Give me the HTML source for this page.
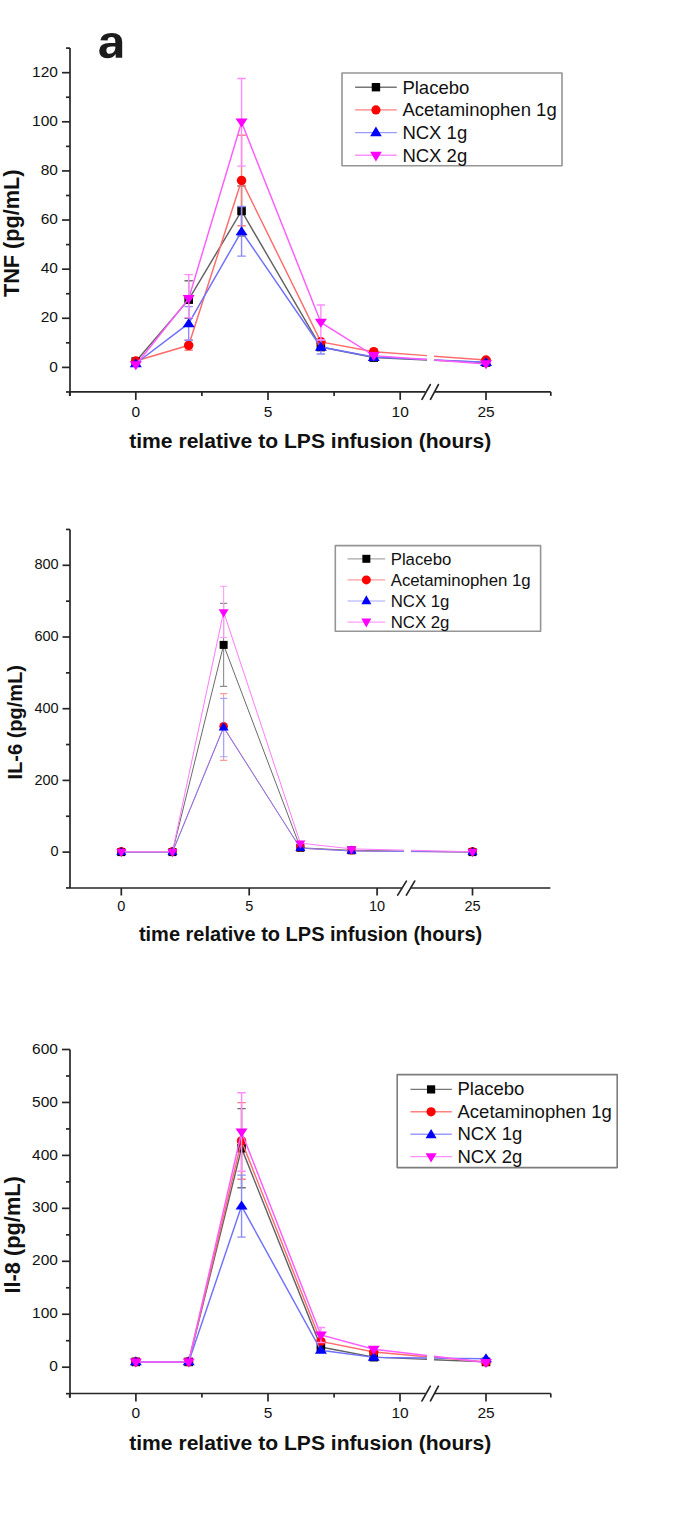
<!DOCTYPE html>
<html><head><meta charset="utf-8"><style>
html,body{margin:0;padding:0;background:#fff;}
body{width:685px;height:1540px;overflow:hidden;}
svg{display:block;}
text{font-family:"Liberation Sans",sans-serif;fill:#111;}
</style></head><body>
<svg width="685" height="1540" viewBox="0 0 685 1540">
<rect width="685" height="1540" fill="#fff"/>
<path transform="translate(97.734 57.749) scale(0.02444 -0.02255)" fill="#1c1c1c" d="M393 -20Q236 -20 148.0 65.5Q60 151 60 306Q60 474 169.5 562.0Q279 650 487 652L720 656V711Q720 817 683.0 868.5Q646 920 562 920Q484 920 447.5 884.5Q411 849 402 767L109 781Q136 939 253.5 1020.5Q371 1102 574 1102Q779 1102 890.0 1001.0Q1001 900 1001 714V0H735V170Q631 -20 393 -20ZM720 501 576 499Q478 495 437.0 477.5Q396 460 374.5 424.0Q353 388 353 328Q353 251 388.5 213.5Q424 176 483 176Q549 176 603.5 212.0Q658 248 689.0 311.5Q720 375 720 446Z"/>
<path d="M135.8 361.51L188.68 299.61L241.56 210.95L320.88 347.02L373.76 357.58L427 359.91" fill="none" stroke="#626262" stroke-width="1.45"/>
<path d="M434 360.21L486 362.49" fill="none" stroke="#626262" stroke-width="1.45"/>
<path d="M188.68 280.81V318.41M184.48 280.81H192.88M184.48 318.41H192.88" fill="none" stroke="#707070" stroke-width="1.4"/>
<path d="M241.56 185.95V235.95M237.36 185.95H245.76M237.36 235.95H245.76" fill="none" stroke="#707070" stroke-width="1.4"/>
<rect x="131.5" y="357.21" width="8.6" height="8.6" fill="#000000"/>
<rect x="184.38" y="295.31" width="8.6" height="8.6" fill="#000000"/>
<rect x="237.26" y="206.65" width="8.6" height="8.6" fill="#000000"/>
<rect x="316.58" y="342.72" width="8.6" height="8.6" fill="#000000"/>
<rect x="369.46" y="353.28" width="8.6" height="8.6" fill="#000000"/>
<rect x="481.7" y="358.19" width="8.6" height="8.6" fill="#000000"/>
<path d="M135.8 361.01L188.68 345.3L241.56 180.5L320.88 341.86L373.76 351.68L427 355.64" fill="none" stroke="#ff6c6c" stroke-width="1.45"/>
<path d="M434 356.16L486 360.03" fill="none" stroke="#ff6c6c" stroke-width="1.45"/>
<path d="M188.68 340.3V350.3M184.48 340.3H192.88M184.48 350.3H192.88" fill="none" stroke="#ff8080" stroke-width="1.4"/>
<path d="M241.56 135.3V225.7M237.36 135.3H245.76M237.36 225.7H245.76" fill="none" stroke="#ff8080" stroke-width="1.4"/>
<circle cx="135.8" cy="361.01" r="4.75" fill="#ff0000"/>
<circle cx="188.68" cy="345.3" r="4.75" fill="#ff0000"/>
<circle cx="241.56" cy="180.5" r="4.75" fill="#ff0000"/>
<circle cx="320.88" cy="341.86" r="4.75" fill="#ff0000"/>
<circle cx="373.76" cy="351.68" r="4.75" fill="#ff0000"/>
<circle cx="486" cy="360.03" r="4.75" fill="#ff0000"/>
<path d="M135.8 363.47L188.68 323.44L241.56 231.34L320.88 347.02L373.76 357.08L427 359.53" fill="none" stroke="#7070ff" stroke-width="1.45"/>
<path d="M434 359.85L486 362.24" fill="none" stroke="#7070ff" stroke-width="1.45"/>
<path d="M188.68 306.64V340.24M184.48 306.64H192.88M184.48 340.24H192.88" fill="none" stroke="#8c8cff" stroke-width="1.4"/>
<path d="M241.56 206.54V256.14M237.36 206.54H245.76M237.36 256.14H245.76" fill="none" stroke="#8c8cff" stroke-width="1.4"/>
<path d="M320.88 340.02V354.02M316.68 340.02H325.08M316.68 354.02H325.08" fill="none" stroke="#8c8cff" stroke-width="1.4"/>
<path d="M135.8 358.27L141.8 367.27L129.8 367.27Z" fill="#0000ff"/>
<path d="M188.68 318.24L194.68 327.24L182.68 327.24Z" fill="#0000ff"/>
<path d="M241.56 226.14L247.56 235.14L235.56 235.14Z" fill="#0000ff"/>
<path d="M320.88 341.82L326.88 350.82L314.88 350.82Z" fill="#0000ff"/>
<path d="M373.76 351.88L379.76 360.88L367.76 360.88Z" fill="#0000ff"/>
<path d="M486 357.04L492 366.04L480 366.04Z" fill="#0000ff"/>
<path d="M135.8 364.94L188.68 298.63L241.56 122.29L320.88 322.46L373.76 355.61L427 359.57" fill="none" stroke="#ff5cff" stroke-width="1.45"/>
<path d="M434 360.09L486 363.96" fill="none" stroke="#ff5cff" stroke-width="1.45"/>
<path d="M188.68 274.63V317.63M184.48 274.63H192.88M184.48 317.63H192.88" fill="none" stroke="#ff8cff" stroke-width="1.4"/>
<path d="M241.56 78.49V166.09M237.36 78.49H245.76M237.36 166.09H245.76" fill="none" stroke="#ff8cff" stroke-width="1.4"/>
<path d="M320.88 304.96V339.96M316.68 304.96H325.08M316.68 339.96H325.08" fill="none" stroke="#ff8cff" stroke-width="1.4"/>
<path d="M129.8 361.24L141.8 361.24L135.8 370.24Z" fill="#ff00ff"/>
<path d="M182.68 294.93L194.68 294.93L188.68 303.93Z" fill="#ff00ff"/>
<path d="M235.56 118.59L247.56 118.59L241.56 127.59Z" fill="#ff00ff"/>
<path d="M314.88 318.76L326.88 318.76L320.88 327.76Z" fill="#ff00ff"/>
<path d="M367.76 351.91L379.76 351.91L373.76 360.91Z" fill="#ff00ff"/>
<path d="M480 360.26L492 360.26L486 369.26Z" fill="#ff00ff"/>
<path d="M70 48.1V396" stroke="#262626" stroke-width="1.7" fill="none"/>
<path d="M70 391.9H425.6M434.4 391.9H550.8" stroke="#262626" stroke-width="1.7" fill="none"/>
<path d="M62 367.4H70" stroke="#262626" stroke-width="1.7"/>
<path d="M62 318.28H70" stroke="#262626" stroke-width="1.7"/>
<path d="M62 269.16H70" stroke="#262626" stroke-width="1.7"/>
<path d="M62 220.04H70" stroke="#262626" stroke-width="1.7"/>
<path d="M62 170.92H70" stroke="#262626" stroke-width="1.7"/>
<path d="M62 121.8H70" stroke="#262626" stroke-width="1.7"/>
<path d="M62 72.68H70" stroke="#262626" stroke-width="1.7"/>
<path d="M66 391.96H70" stroke="#262626" stroke-width="1.7"/>
<path d="M66 342.84H70" stroke="#262626" stroke-width="1.7"/>
<path d="M66 293.72H70" stroke="#262626" stroke-width="1.7"/>
<path d="M66 244.6H70" stroke="#262626" stroke-width="1.7"/>
<path d="M66 195.48H70" stroke="#262626" stroke-width="1.7"/>
<path d="M66 146.36H70" stroke="#262626" stroke-width="1.7"/>
<path d="M66 97.24H70" stroke="#262626" stroke-width="1.7"/>
<path d="M66 48.12H70" stroke="#262626" stroke-width="1.7"/>
<path d="M135.8 391.9V399.9" stroke="#262626" stroke-width="1.7"/>
<path d="M268 391.9V399.9" stroke="#262626" stroke-width="1.7"/>
<path d="M400.2 391.9V399.9" stroke="#262626" stroke-width="1.7"/>
<path d="M486 391.9V399.9" stroke="#262626" stroke-width="1.7"/>
<path d="M69.7 391.9V395.9" stroke="#262626" stroke-width="1.7"/>
<path d="M201.9 391.9V395.9" stroke="#262626" stroke-width="1.7"/>
<path d="M334.1 391.9V395.9" stroke="#262626" stroke-width="1.7"/>
<path d="M550.8 391.9V395.9" stroke="#262626" stroke-width="1.7"/>
<path d="M422 399.3L430.3 384.6" stroke="#262626" stroke-width="1.7" stroke-linecap="round"/>
<path d="M430.5 399.3L438.4 384.6" stroke="#262626" stroke-width="1.7" stroke-linecap="round"/>
<text x="57.9" y="371.5" font-size="15.5" text-anchor="end">0</text>
<text x="57.9" y="322.38" font-size="15.5" text-anchor="end">20</text>
<text x="57.9" y="273.26" font-size="15.5" text-anchor="end">40</text>
<text x="57.9" y="224.14" font-size="15.5" text-anchor="end">60</text>
<text x="57.9" y="175.02" font-size="15.5" text-anchor="end">80</text>
<text x="57.9" y="125.9" font-size="15.5" text-anchor="end">100</text>
<text x="57.9" y="76.78" font-size="15.5" text-anchor="end">120</text>
<text x="135.8" y="416.9" font-size="15.5" text-anchor="middle">0</text>
<text x="268" y="416.9" font-size="15.5" text-anchor="middle">5</text>
<text x="400.2" y="416.9" font-size="15.5" text-anchor="middle">10</text>
<text x="486" y="416.9" font-size="15.5" text-anchor="middle">25</text>
<text x="129.2" y="448.3" font-size="21.1" font-weight="bold">time relative to LPS infusion (hours)</text>
<text transform="translate(19.4 297.1) rotate(-90)" font-size="21.7" font-weight="bold">TNF (pg/mL)</text>
<rect x="342" y="73" width="220" height="92.8" fill="#fff" stroke="#959595" stroke-width="1.6" stroke-linejoin="round"/>
<path d="M355.1 87.2H396.8" stroke="#777777" stroke-width="1.4"/>
<rect x="371.75" y="83" width="8.4" height="8.4" fill="#000000"/>
<text x="402.4" y="93.5" font-size="18.5">Placebo</text>
<path d="M355.1 109.9H396.8" stroke="#ff8080" stroke-width="1.4"/>
<circle cx="375.95" cy="109.9" r="4.6" fill="#ff0000"/>
<text x="402.4" y="116.2" font-size="18.5">Acetaminophen 1g</text>
<path d="M355.1 132.6H396.8" stroke="#9a9aff" stroke-width="1.4"/>
<path d="M375.95 126.6L381.75 136.2L370.15 136.2Z" fill="#0000ff"/>
<text x="402.4" y="138.9" font-size="18.5">NCX 1g</text>
<path d="M355.1 155.3H396.8" stroke="#ff90ff" stroke-width="1.4"/>
<path d="M370.15 151.8L381.75 151.8L375.95 161.4Z" fill="#ff00ff"/>
<text x="402.4" y="161.6" font-size="18.5">NCX 2g</text>
<path d="M121.3 852.1L172.46 852.1L223.62 644.89L300.36 847.8L351.52 850.31L404 851.09" fill="none" stroke="#6a6a6a" stroke-width="1.0"/>
<path d="M411 851.19L472.5 852.1" fill="none" stroke="#6a6a6a" stroke-width="1.0"/>
<path d="M223.62 603.39V686.39M220.02 603.39H227.22M220.02 686.39H227.22" fill="none" stroke="#8c8c8c" stroke-width="1.1"/>
<rect x="117.3" y="848.1" width="8" height="8" fill="#000000"/>
<rect x="168.46" y="848.1" width="8" height="8" fill="#000000"/>
<rect x="219.62" y="640.89" width="8" height="8" fill="#000000"/>
<rect x="296.36" y="843.8" width="8" height="8" fill="#000000"/>
<rect x="347.52" y="846.31" width="8" height="8" fill="#000000"/>
<rect x="468.5" y="848.1" width="8" height="8" fill="#000000"/>
<path d="M121.3 852.1L172.46 852.1L223.62 726.98L300.36 848.16L351.52 851.02L404 851.49" fill="none" stroke="#ff7474" stroke-width="1.0"/>
<path d="M411 851.55L472.5 852.1" fill="none" stroke="#ff7474" stroke-width="1.0"/>
<path d="M223.62 693.58V760.38M220.02 693.58H227.22M220.02 760.38H227.22" fill="none" stroke="#ff9c9c" stroke-width="1.1"/>
<circle cx="121.3" cy="851.3" r="4.25" fill="#ff0000"/>
<circle cx="172.46" cy="851.3" r="4.25" fill="#ff0000"/>
<circle cx="223.62" cy="726.18" r="4.25" fill="#ff0000"/>
<circle cx="300.36" cy="847.36" r="4.25" fill="#ff0000"/>
<circle cx="351.52" cy="850.22" r="4.25" fill="#ff0000"/>
<circle cx="472.5" cy="851.3" r="4.25" fill="#ff0000"/>
<path d="M121.3 852.1L172.46 852.1L223.62 727.59L300.36 848.16L351.52 851.02L404 851.49" fill="none" stroke="#7a7aff" stroke-width="1.0"/>
<path d="M411 851.55L472.5 852.1" fill="none" stroke="#7a7aff" stroke-width="1.0"/>
<path d="M223.62 698.39V756.79M220.02 698.39H227.22M220.02 756.79H227.22" fill="none" stroke="#a4a4ff" stroke-width="1.1"/>
<path d="M121.3 846.7L126.3 854.9L116.3 854.9Z" fill="#0000ff"/>
<path d="M172.46 846.7L177.46 854.9L167.46 854.9Z" fill="#0000ff"/>
<path d="M223.62 722.19L228.62 730.39L218.62 730.39Z" fill="#0000ff"/>
<path d="M300.36 842.76L305.36 850.96L295.36 850.96Z" fill="#0000ff"/>
<path d="M351.52 845.62L356.52 853.82L346.52 853.82Z" fill="#0000ff"/>
<path d="M472.5 846.7L477.5 854.9L467.5 854.9Z" fill="#0000ff"/>
<path d="M121.3 851.74L172.46 851.74L223.62 611.9L300.36 843.14L351.52 848.87L404 850.12" fill="none" stroke="#ff7aff" stroke-width="1.0"/>
<path d="M411 850.28L472.5 851.74" fill="none" stroke="#ff7aff" stroke-width="1.0"/>
<path d="M223.62 586.3V637.5M220.02 586.3H227.22M220.02 637.5H227.22" fill="none" stroke="#ff9cff" stroke-width="1.1"/>
<path d="M116.3 849.04L126.3 849.04L121.3 857.24Z" fill="#ff00ff"/>
<path d="M167.46 849.04L177.46 849.04L172.46 857.24Z" fill="#ff00ff"/>
<path d="M218.62 609.2L228.62 609.2L223.62 617.4Z" fill="#ff00ff"/>
<path d="M295.36 840.44L305.36 840.44L300.36 848.64Z" fill="#ff00ff"/>
<path d="M346.52 846.17L356.52 846.17L351.52 854.37Z" fill="#ff00ff"/>
<path d="M467.5 849.04L477.5 849.04L472.5 857.24Z" fill="#ff00ff"/>
<path d="M70 529.5V888" stroke="#262626" stroke-width="1.7" fill="none"/>
<path d="M70 888H402.5M410.5 888H550.4" stroke="#262626" stroke-width="1.7" fill="none"/>
<path d="M62.5 852.1H70" stroke="#262626" stroke-width="1.7"/>
<path d="M62.5 780.4H70" stroke="#262626" stroke-width="1.7"/>
<path d="M62.5 708.7H70" stroke="#262626" stroke-width="1.7"/>
<path d="M62.5 637H70" stroke="#262626" stroke-width="1.7"/>
<path d="M62.5 565.3H70" stroke="#262626" stroke-width="1.7"/>
<path d="M66 887.95H70" stroke="#262626" stroke-width="1.7"/>
<path d="M66 816.25H70" stroke="#262626" stroke-width="1.7"/>
<path d="M66 744.55H70" stroke="#262626" stroke-width="1.7"/>
<path d="M66 672.85H70" stroke="#262626" stroke-width="1.7"/>
<path d="M66 601.15H70" stroke="#262626" stroke-width="1.7"/>
<path d="M66 529.45H70" stroke="#262626" stroke-width="1.7"/>
<path d="M121.3 888V895.5" stroke="#262626" stroke-width="1.7"/>
<path d="M249.2 888V895.5" stroke="#262626" stroke-width="1.7"/>
<path d="M377.1 888V895.5" stroke="#262626" stroke-width="1.7"/>
<path d="M472.5 888V895.5" stroke="#262626" stroke-width="1.7"/>
<path d="M397.7 895.1L406.4 881.1" stroke="#262626" stroke-width="1.7" stroke-linecap="round"/>
<path d="M406.4 895.1L414.7 881.1" stroke="#262626" stroke-width="1.7" stroke-linecap="round"/>
<text x="58.6" y="856.2" font-size="14.5" text-anchor="end">0</text>
<text x="58.6" y="784.5" font-size="14.5" text-anchor="end">200</text>
<text x="58.6" y="712.8" font-size="14.5" text-anchor="end">400</text>
<text x="58.6" y="641.1" font-size="14.5" text-anchor="end">600</text>
<text x="58.6" y="569.4" font-size="14.5" text-anchor="end">800</text>
<text x="121.3" y="910.6" font-size="14.5" text-anchor="middle">0</text>
<text x="249.2" y="910.6" font-size="14.5" text-anchor="middle">5</text>
<text x="377.1" y="910.6" font-size="14.5" text-anchor="middle">10</text>
<text x="472.5" y="910.6" font-size="14.5" text-anchor="middle">25</text>
<text x="138.9" y="940.5" font-size="20" font-weight="bold">time relative to LPS infusion (hours)</text>
<text transform="translate(22.4 779.4) rotate(-90)" font-size="20" font-weight="bold">IL-6 (pg/mL)</text>
<rect x="335.3" y="545.6" width="205.3" height="85.7" fill="#fff" stroke="#959595" stroke-width="1.6" stroke-linejoin="round"/>
<path d="M347.5 558.8H385.2" stroke="#a8a8a8" stroke-width="1.2"/>
<rect x="362.35" y="554.8" width="8" height="8" fill="#000000"/>
<text x="390.7" y="564.8" font-size="16.8">Placebo</text>
<path d="M347.5 579.9H385.2" stroke="#ffa0a0" stroke-width="1.2"/>
<circle cx="366.35" cy="579.9" r="4.5" fill="#ff0000"/>
<text x="390.7" y="585.9" font-size="16.8">Acetaminophen 1g</text>
<path d="M347.5 601H385.2" stroke="#a8a8ff" stroke-width="1.2"/>
<path d="M366.35 595.3L371.35 604.3L361.35 604.3Z" fill="#0000ff"/>
<text x="390.7" y="607" font-size="16.8">NCX 1g</text>
<path d="M347.5 622.1H385.2" stroke="#ffa0ff" stroke-width="1.2"/>
<path d="M361.35 618.6L371.35 618.6L366.35 627.6Z" fill="#ff00ff"/>
<text x="390.7" y="628.1" font-size="16.8">NCX 2g</text>
<path d="M135.8 1361.9L188.68 1361.9L241.56 1148.2L320.88 1347.08L373.76 1357.14L427 1359.4" fill="none" stroke="#626262" stroke-width="1.45"/>
<path d="M434 1359.7L486 1361.9" fill="none" stroke="#626262" stroke-width="1.45"/>
<path d="M241.56 1108.6V1187.8M237.36 1108.6H245.76M237.36 1187.8H245.76" fill="none" stroke="#707070" stroke-width="1.4"/>
<rect x="131.5" y="1357.61" width="8.6" height="8.6" fill="#000000"/>
<rect x="184.38" y="1357.61" width="8.6" height="8.6" fill="#000000"/>
<rect x="237.26" y="1143.9" width="8.6" height="8.6" fill="#000000"/>
<rect x="316.58" y="1342.78" width="8.6" height="8.6" fill="#000000"/>
<rect x="369.46" y="1352.84" width="8.6" height="8.6" fill="#000000"/>
<rect x="481.7" y="1357.61" width="8.6" height="8.6" fill="#000000"/>
<path d="M135.8 1361.64L188.68 1361.64L241.56 1140.94L320.88 1341.41L373.76 1352L427 1356.7" fill="none" stroke="#ff6c6c" stroke-width="1.45"/>
<path d="M434 1357.32L486 1361.9" fill="none" stroke="#ff6c6c" stroke-width="1.45"/>
<path d="M241.56 1102.64V1179.24M237.36 1102.64H245.76M237.36 1179.24H245.76" fill="none" stroke="#ff8080" stroke-width="1.4"/>
<circle cx="135.8" cy="1361.64" r="4.75" fill="#ff0000"/>
<circle cx="188.68" cy="1361.64" r="4.75" fill="#ff0000"/>
<circle cx="241.56" cy="1140.94" r="4.75" fill="#ff0000"/>
<circle cx="320.88" cy="1341.41" r="4.75" fill="#ff0000"/>
<circle cx="373.76" cy="1352" r="4.75" fill="#ff0000"/>
<circle cx="486" cy="1361.9" r="4.75" fill="#ff0000"/>
<path d="M135.8 1361.9L188.68 1361.9L241.56 1206.13L320.88 1350.26L373.76 1357.4L427 1358.03" fill="none" stroke="#7070ff" stroke-width="1.45"/>
<path d="M434 1358.11L486 1358.73" fill="none" stroke="#7070ff" stroke-width="1.45"/>
<path d="M241.56 1175.13V1237.13M237.36 1175.13H245.76M237.36 1237.13H245.76" fill="none" stroke="#8c8cff" stroke-width="1.4"/>
<path d="M135.8 1356.31L141.8 1365.31L129.8 1365.31Z" fill="#0000ff"/>
<path d="M188.68 1356.31L194.68 1365.31L182.68 1365.31Z" fill="#0000ff"/>
<path d="M241.56 1200.53L247.56 1209.53L235.56 1209.53Z" fill="#0000ff"/>
<path d="M320.88 1344.66L326.88 1353.66L314.88 1353.66Z" fill="#0000ff"/>
<path d="M373.76 1351.8L379.76 1360.8L367.76 1360.8Z" fill="#0000ff"/>
<path d="M486 1353.13L492 1362.13L480 1362.13Z" fill="#0000ff"/>
<path d="M135.8 1361.9L188.68 1361.9L241.56 1132L320.88 1335.01L373.76 1349.2L427 1355.48" fill="none" stroke="#ff5cff" stroke-width="1.45"/>
<path d="M434 1356.3L486 1362.43" fill="none" stroke="#ff5cff" stroke-width="1.45"/>
<path d="M241.56 1092.75V1171.25M237.36 1092.75H245.76M237.36 1171.25H245.76" fill="none" stroke="#ff8cff" stroke-width="1.4"/>
<path d="M320.88 1327.51V1342.51M316.68 1327.51H325.08M316.68 1342.51H325.08" fill="none" stroke="#ff8cff" stroke-width="1.4"/>
<path d="M129.8 1358.4L141.8 1358.4L135.8 1367.4Z" fill="#ff00ff"/>
<path d="M182.68 1358.4L194.68 1358.4L188.68 1367.4Z" fill="#ff00ff"/>
<path d="M235.56 1128.5L247.56 1128.5L241.56 1137.5Z" fill="#ff00ff"/>
<path d="M314.88 1331.51L326.88 1331.51L320.88 1340.51Z" fill="#ff00ff"/>
<path d="M367.76 1345.7L379.76 1345.7L373.76 1354.7Z" fill="#ff00ff"/>
<path d="M480 1358.93L492 1358.93L486 1367.93Z" fill="#ff00ff"/>
<path d="M70 1049.5V1397.7" stroke="#262626" stroke-width="1.7" fill="none"/>
<path d="M70 1393.5H425.6M434.4 1393.5H550.8" stroke="#262626" stroke-width="1.7" fill="none"/>
<path d="M62 1367.2H70" stroke="#262626" stroke-width="1.7"/>
<path d="M62 1314.25H70" stroke="#262626" stroke-width="1.7"/>
<path d="M62 1261.3H70" stroke="#262626" stroke-width="1.7"/>
<path d="M62 1208.35H70" stroke="#262626" stroke-width="1.7"/>
<path d="M62 1155.4H70" stroke="#262626" stroke-width="1.7"/>
<path d="M62 1102.45H70" stroke="#262626" stroke-width="1.7"/>
<path d="M62 1049.5H70" stroke="#262626" stroke-width="1.7"/>
<path d="M66 1393.67H70" stroke="#262626" stroke-width="1.7"/>
<path d="M66 1340.73H70" stroke="#262626" stroke-width="1.7"/>
<path d="M66 1287.78H70" stroke="#262626" stroke-width="1.7"/>
<path d="M66 1234.83H70" stroke="#262626" stroke-width="1.7"/>
<path d="M66 1181.88H70" stroke="#262626" stroke-width="1.7"/>
<path d="M66 1128.93H70" stroke="#262626" stroke-width="1.7"/>
<path d="M66 1075.98H70" stroke="#262626" stroke-width="1.7"/>
<path d="M135.9 1393.5V1401.5" stroke="#262626" stroke-width="1.7"/>
<path d="M268 1393.5V1401.5" stroke="#262626" stroke-width="1.7"/>
<path d="M400 1393.5V1401.5" stroke="#262626" stroke-width="1.7"/>
<path d="M486 1393.5V1401.5" stroke="#262626" stroke-width="1.7"/>
<path d="M69.7 1393.5V1397.5" stroke="#262626" stroke-width="1.7"/>
<path d="M201.9 1393.5V1397.5" stroke="#262626" stroke-width="1.7"/>
<path d="M334.1 1393.5V1397.5" stroke="#262626" stroke-width="1.7"/>
<path d="M550.8 1393.5V1397.5" stroke="#262626" stroke-width="1.7"/>
<path d="M422 1400.9L430.3 1386.2" stroke="#262626" stroke-width="1.7" stroke-linecap="round"/>
<path d="M430.5 1400.9L438.4 1386.2" stroke="#262626" stroke-width="1.7" stroke-linecap="round"/>
<text x="57.9" y="1371.3" font-size="15.5" text-anchor="end">0</text>
<text x="57.9" y="1318.35" font-size="15.5" text-anchor="end">100</text>
<text x="57.9" y="1265.4" font-size="15.5" text-anchor="end">200</text>
<text x="57.9" y="1212.45" font-size="15.5" text-anchor="end">300</text>
<text x="57.9" y="1159.5" font-size="15.5" text-anchor="end">400</text>
<text x="57.9" y="1106.55" font-size="15.5" text-anchor="end">500</text>
<text x="57.9" y="1053.6" font-size="15.5" text-anchor="end">600</text>
<text x="135.9" y="1418" font-size="15.5" text-anchor="middle">0</text>
<text x="268" y="1418" font-size="15.5" text-anchor="middle">5</text>
<text x="400" y="1418" font-size="15.5" text-anchor="middle">10</text>
<text x="486" y="1418" font-size="15.5" text-anchor="middle">25</text>
<text x="129.2" y="1449.9" font-size="21.1" font-weight="bold">time relative to LPS infusion (hours)</text>
<text transform="translate(19.6 1293.6) rotate(-90)" font-size="21.8" font-weight="bold">Il-8 (pg/mL)</text>
<rect x="397.2" y="1074.6" width="220" height="93" fill="#fff" stroke="#7c7c7c" stroke-width="1.6" stroke-linejoin="round"/>
<path d="M410.4 1089.4H451.8" stroke="#777777" stroke-width="1.4"/>
<rect x="427" y="1085.3" width="8.2" height="8.2" fill="#000000"/>
<text x="457.5" y="1095.3" font-size="18.5">Placebo</text>
<path d="M410.4 1111.8H451.8" stroke="#ff8080" stroke-width="1.4"/>
<circle cx="431.1" cy="1111.8" r="4.6" fill="#ff0000"/>
<text x="457.5" y="1117.7" font-size="18.5">Acetaminophen 1g</text>
<path d="M410.4 1134.2H451.8" stroke="#9a9aff" stroke-width="1.4"/>
<path d="M431.1 1129L436.6 1138.2L425.6 1138.2Z" fill="#0000ff"/>
<text x="457.5" y="1140.1" font-size="18.5">NCX 1g</text>
<path d="M410.4 1156.6H451.8" stroke="#ff90ff" stroke-width="1.4"/>
<path d="M425.6 1153.3L436.6 1153.3L431.1 1162.5Z" fill="#ff00ff"/>
<text x="457.5" y="1162.5" font-size="18.5">NCX 2g</text>
</svg>
</body></html>
